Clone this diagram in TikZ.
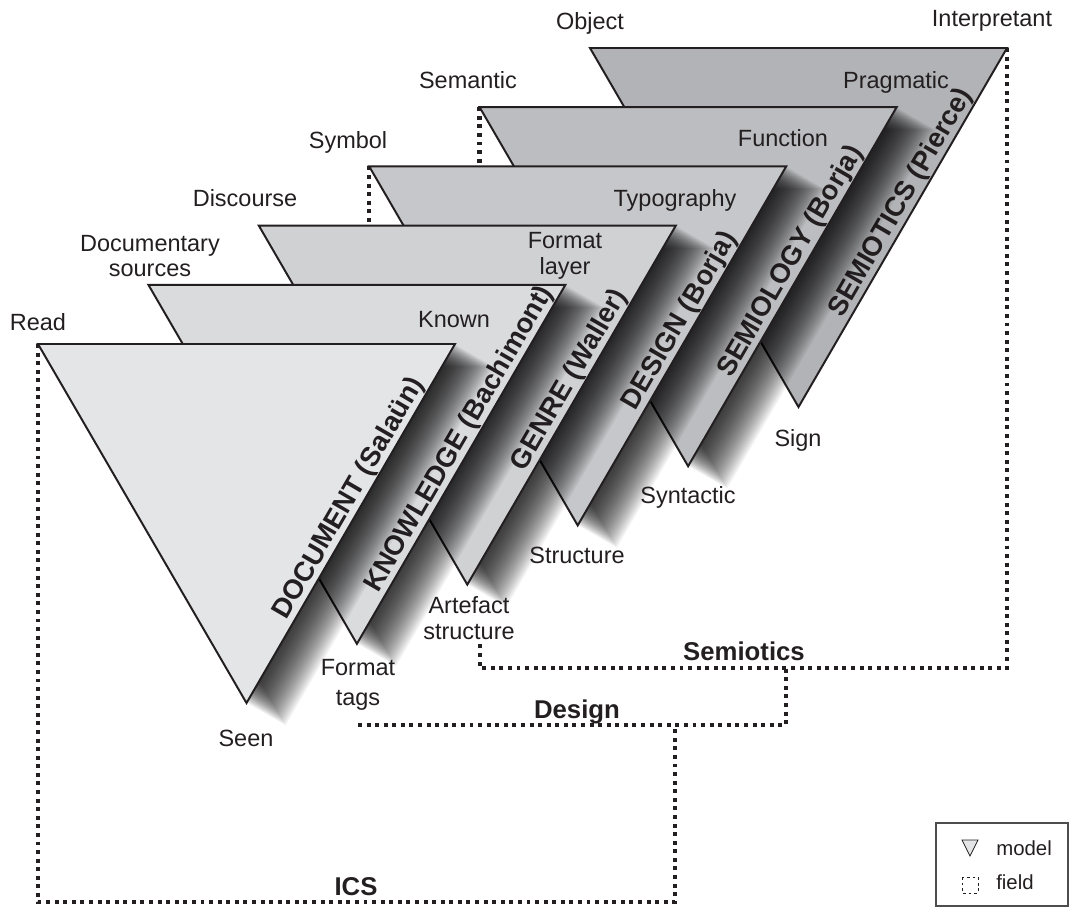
\documentclass[tikz,border=0pt]{standalone}
\usepackage{fontspec}
\setmainfont{Liberation Sans}
\usetikzlibrary{calc}
\definecolor{ink}{RGB}{35,31,32}
\definecolor{paperA}{RGB}{228,229,231}
\definecolor{paperB}{RGB}{218,219,221}
\definecolor{paperC}{RGB}{208,209,211}
\definecolor{paperD}{RGB}{198,199,202}
\definecolor{paperE}{RGB}{188,189,192}
\definecolor{paperF}{RGB}{178,179,182}
\tikzset{
  modeltri/.style={fill=#1,draw=ink,line width=1.4pt,line join=miter},
  umbra/.style={fill=black,fill opacity=0.046},
  fieldline/.style={draw=ink,line width=3.2pt,dash pattern=on 2.8pt off 3.3pt},
  tag/.style={font=\fontsize{16.7}{18}\selectfont,text=ink,align=center,inner sep=0pt},
  fieldname/.style={font=\fontsize{18.3}{20}\selectfont\bfseries,text=ink,inner sep=0pt},
  modelname/.style={font=\fontsize{19.5}{22}\selectfont\bfseries,text=ink,inner sep=0.6pt},
  keytag/.style={font=\fontsize{14.5}{16}\selectfont,text=ink,inner sep=0pt,anchor=west},
}
\begin{document}
\begin{tikzpicture}[x=0.025cm,y=-0.025cm]
  \useasboundingbox (0,0) rectangle (1070,910);
  % corners of the six models
  \foreach \i in {0,...,5} {
    \coordinate (L\i) at ({38+110.4*\i},{344-59.2*\i});
    \coordinate (R\i) at ($(L\i)+(417,0)$);
    \coordinate (B\i) at ($(L\i)+(208.5,359)$);
  }
  % fields
  \draw[fieldline] (R5) -- (R5 |- 0,668) -- (480,668) -- (480,643);
  \draw[fieldline] (L4) -- (L4 |- L3);
  \draw[fieldline] (L3) -- (L3 |- L2);
  \draw[fieldline] (358,725) -- (786,725) -- (786,668);
  \draw[fieldline] (L0) -- (L0 |- 0,902) -- (675,902) -- (675,725);
  % models, back to front
  \foreach \i/\col/\mdl in {5/paperF/{SEMIOTICS (Pierce)},4/paperE/{SEMIOLOGY (Borja)},
      3/paperD/{DESIGN (Borja)},2/paperC/{GENRE (Waller)},
      1/paperB/{KNOWLEDGE (Bachimont)},0/paperA/{DOCUMENT (Salaün)}} {
    \ifnum\i<5
      % soft shadow: copies slid down to the right
      \foreach \t in {1,...,30}
        \fill[umbra] ($(L\i)+\t*(1.3,0.75)$) -- ($(R\i)+\t*(1.3,0.75)$)
          -- ($(B\i)+\t*(1.3,0.75)$) -- cycle;
    \fi
    \filldraw[modeltri=\col] (L\i) -- (R\i) -- (B\i) -- cycle;
    \path (B\i) -- (R\i) node[modelname,pos=.55,sloped,above] (m\i) {\mdl};
  }
  % corner labels
  \node[tag] (read) at (38,322) {Read};
  \node[tag] (docsrc) at (150,256) {Documentary\\sources};
  \node[tag] (discourse) at (245,198) {Discourse};
  \node[tag] (symbol) at (348,142) {Symbol};
  \node[tag] (semantic) at (468,80) {Semantic};
  \node[tag] (object) at (590,23) {Object};
  \node[tag] (interp) at (992,21) {Interpretant};
  \node[tag] (known) at (454,320) {Known};
  \node[tag] (fmtlayer) at (565,256) {Format\\layer};
  \node[tag] (typo) at (675,200) {Typography};
  \node[tag] (function) at (783,138) {Function};
  \node[tag] (pragma) at (896,82) {Pragmatic};
  \node[tag] (seen) at (246,738) {Seen};
  \node[tag,font=\fontsize{16.7}{21}\selectfont] (fmttags) at (358,685) {Format\\tags};
  \node[tag] (artefact) at (469,618) {Artefact\\structure};
  \node[tag] (struct) at (577,555) {Structure};
  \node[tag] (syntax) at (688,497) {Syntactic};
  \node[tag] (sign) at (798,440) {Sign};
  % field names
  \node[fieldname] (semiotics) at (744,651) {Semiotics};
  \node[fieldname] (design) at (577,712) {Design};
  \node[fieldname] (ics) at (356,887) {ICS};
  % key
  \node[draw=ink!80,line width=1pt,minimum width=3.3cm,minimum height=2.08cm] (legend) at (1002,864.5) {};
  \filldraw[fill=paperA,draw=ink,line width=0.6pt] (962,840) -- (978,840) -- (970,856) -- cycle;
  \node[keytag] (kmodel) at (996,848) {model};
  \draw[ink,line width=0.5pt,dash pattern=on 2pt off 2pt] (962,877) rectangle (978,893);
  \node[keytag] (kfield) at (996,882) {field};
\end{tikzpicture}
\end{document}
